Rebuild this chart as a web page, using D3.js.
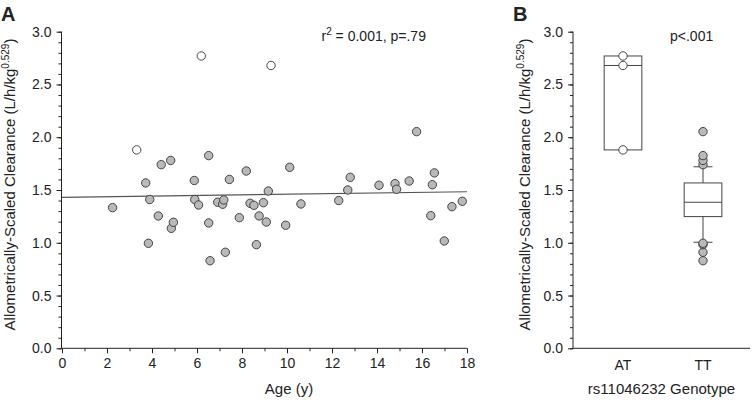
<!DOCTYPE html>
<html><head><meta charset="utf-8">
<script src="https://cdn.jsdelivr.net/npm/d3@7"></script>
<style>
body{margin:0;background:#fff;}
svg text{font-family:"Liberation Sans",Arial,sans-serif;fill:#222;}
</style></head>
<body><svg id="c" width="755" height="402"></svg>
<script>
// Panel A: age vs clearance, TT genotype (grey) and AT genotype (open)
const ttAge = [2.25,3.72,3.90,3.84,4.28,4.41,4.83,4.86,4.95,5.88,5.90,6.07,6.52,6.52,6.58,6.92,7.14,7.19,7.26,7.44,7.88,8.19,8.36,8.53,8.64,8.76,8.95,9.08,9.17,9.94,10.12,10.62,12.30,12.70,12.81,14.09,14.80,14.87,15.43,15.76,16.46,16.55,16.39,16.99,17.33,17.79];
const ttCl  = [1.333,1.567,1.41,0.995,1.254,1.74,1.78,1.137,1.194,1.59,1.41,1.358,1.826,1.188,0.83,1.384,1.365,1.406,0.91,1.60,1.238,1.68,1.374,1.355,0.982,1.254,1.38,1.197,1.49,1.166,1.715,1.368,1.40,1.50,1.62,1.545,1.56,1.507,1.585,2.053,1.55,1.662,1.257,1.017,1.342,1.393];
const atAge = [3.32,6.19,9.29];
const atCl  = [1.88,2.77,2.68];
const regIntercept = 1.431, regSlope = 0.0029;
const xTicksA = [0,2,4,6,8,10,12,14,16,18];
const yTicks = [0,0.5,1.0,1.5,2.0,2.5,3.0];
// Panel B: box plot stats
const genotypes = ["AT","TT"];
const boxQ1 = [1.88,1.248], boxMed = [2.68,1.384], boxQ3 = [2.77,1.567];
const whiskLo = [null,1.005], whiskHi = [null,1.72];

const svg = d3.select("#c");
const y = d3.scaleLinear().domain([0,3]).range([348.3,31.7]);
const xA = d3.scaleLinear().domain([0,18]).range([62,467]);
const xB = d3.scalePoint().domain(genotypes).range([623,703]);
const axisCol = "#222";
const fmt = d3.format(".1f");
const tickFs = "14px", titleFs = "15px";

function yAxis(x0){
  const gMin = svg.append("g").attr("transform",`translate(${x0},0)`)
    .call(d3.axisLeft(y).tickValues(d3.range(0,31).map(i=>i/10)).tickSize(3).tickFormat(""));
  gMin.select(".domain").remove();
  const g = svg.append("g").attr("transform",`translate(${x0},0)`)
    .call(d3.axisLeft(y).tickValues(yTicks).tickSize(5).tickPadding(5).tickFormat(fmt));
  g.selectAll("line").attr("stroke",axisCol);
  gMin.selectAll("line").attr("stroke",axisCol);
  g.select(".domain").attr("stroke",axisCol).attr("d",`M0,${y(3)}V${y(0)}`);
  g.selectAll("text").style("font-size",tickFs).attr("fill","#222");
}
function yTitle(bx){
  const t = svg.append("text").attr("transform",`translate(${bx},184.5) rotate(-90)`)
    .attr("text-anchor","middle").style("font-size",titleFs);
  t.append("tspan").text("Allometrically-Scaled Clearance (L/h/kg");
  t.append("tspan").attr("dy","-6").style("font-size","10px").text("0.529");
  t.append("tspan").attr("dy","6").text(")");
}

// ---- Panel A
yAxis(61.5);
const xMin = svg.append("g").attr("transform","translate(0,348.3)")
  .call(d3.axisBottom(xA).tickValues(d3.range(1,18,2)).tickSize(3).tickFormat(""));
xMin.select(".domain").remove();
xMin.selectAll("line").attr("stroke",axisCol);
const gx = svg.append("g").attr("transform","translate(0,348.3)")
  .call(d3.axisBottom(xA).tickValues(xTicksA).tickSize(5).tickPadding(5).tickFormat(d3.format("d")));
gx.selectAll("line").attr("stroke",axisCol);
gx.select(".domain").attr("stroke",axisCol).attr("d",`M${xA(0)-0.5},0H${xA(18)}`);
gx.selectAll("text").style("font-size",tickFs).attr("fill","#222");
yTitle(15);
svg.append("text").attr("x",289).attr("y",394).attr("text-anchor","middle").style("font-size",titleFs).text("Age (y)");
svg.append("text").attr("x",1).attr("y",20.5).style("font-size","20px").style("font-weight","bold").text("A");

svg.append("line").attr("x1",xA(0)).attr("x2",xA(18))
  .attr("y1",y(regIntercept)).attr("y2",y(regIntercept+regSlope*18))
  .attr("stroke","#555").attr("stroke-width",1.2);

const ptsA = ttAge.map((a,i)=>({x:a,v:ttCl[i]}));
svg.append("g").selectAll("circle").data(ptsA).join("circle")
  .attr("cx",d=>xA(d.x)).attr("cy",d=>y(d.v)).attr("r",4.2)
  .attr("fill","#b9b9b9").attr("stroke","#333").attr("stroke-width",0.9);
svg.append("g").selectAll("circle").data(atAge.map((a,i)=>({x:a,v:atCl[i]}))).join("circle")
  .attr("cx",d=>xA(d.x)).attr("cy",d=>y(d.v)).attr("r",4.2)
  .attr("fill","#fff").attr("stroke","#333").attr("stroke-width",0.9);

const rt = svg.append("text").attr("x",321.5).attr("y",41).style("font-size","14px");
rt.append("tspan").text("r");
rt.append("tspan").attr("dy","-6").style("font-size","10px").text("2");
rt.append("tspan").attr("dy","6").text(" = 0.001, p=.79");

// ---- Panel B
yAxis(573);
svg.append("line").attr("x1",572.5).attr("x2",750).attr("y1",348.3).attr("y2",348.3).attr("stroke",axisCol);
genotypes.forEach(g=>{
  svg.append("text").attr("x",xB(g)).attr("y",370).attr("text-anchor","middle").style("font-size",tickFs).text(g);
});
svg.append("text").attr("x",661.5).attr("y",394).attr("text-anchor","middle").style("font-size",titleFs).text("rs11046232 Genotype");
yTitle(530);
svg.append("text").attr("x",513).attr("y",21).style("font-size","20px").style("font-weight","bold").text("B");
svg.append("text").attr("x",670).attr("y",41).style("font-size","14px").text("p<.001");

const boxW = 37.7, capW = 19;
const boxCol = "#444";
genotypes.forEach((g,i)=>{
  const cx = xB(g);
  if (whiskLo[i]!==null){
    svg.append("line").attr("x1",cx).attr("x2",cx).attr("y1",y(boxQ1[i])).attr("y2",y(whiskLo[i])).attr("stroke",boxCol);
    svg.append("line").attr("x1",cx).attr("x2",cx).attr("y1",y(boxQ3[i])).attr("y2",y(whiskHi[i])).attr("stroke",boxCol);
    svg.append("line").attr("x1",cx-capW/2).attr("x2",cx+capW/2).attr("y1",y(whiskLo[i])).attr("y2",y(whiskLo[i])).attr("stroke",boxCol);
    svg.append("line").attr("x1",cx-capW/2).attr("x2",cx+capW/2).attr("y1",y(whiskHi[i])).attr("y2",y(whiskHi[i])).attr("stroke",boxCol);
  }
  svg.append("rect").attr("x",cx-boxW/2).attr("width",boxW).attr("y",y(boxQ3[i])).attr("height",y(boxQ1[i])-y(boxQ3[i]))
    .attr("fill","#fff").attr("stroke",boxCol);
  svg.append("line").attr("x1",cx-boxW/2).attr("x2",cx+boxW/2).attr("y1",y(boxMed[i])).attr("y2",y(boxMed[i])).attr("stroke",boxCol);
});
// AT: all points (open); TT: points outside whiskers (grey)
svg.append("g").selectAll("circle").data(atCl).join("circle")
  .attr("cx",xB("AT")).attr("cy",d=>y(d)).attr("r",4.2)
  .attr("fill","#fff").attr("stroke","#333").attr("stroke-width",0.9);
const ttOut = ttCl.filter(v=>v>whiskHi[1]||v<whiskLo[1]).sort((a,b)=>a-b);
svg.append("g").selectAll("circle").data(ttOut).join("circle")
  .attr("cx",xB("TT")).attr("cy",d=>y(d)).attr("r",4.2)
  .attr("fill","#b9b9b9").attr("stroke","#333").attr("stroke-width",0.9);
</script></body></html>
